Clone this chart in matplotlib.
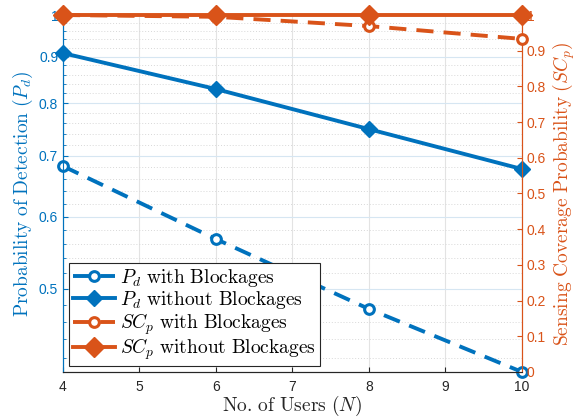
import matplotlib
matplotlib.use('Agg')
import matplotlib.pyplot as plt
from matplotlib.ticker import FixedLocator, FuncFormatter, NullFormatter
import numpy as np

plt.rcParams['mathtext.fontset'] = 'cm'
plt.rcParams['font.family'] = ['Liberation Sans', 'DejaVu Sans']

# data
users = [4, 6, 8, 10]
pd_block = [0.682, 0.567, 0.475, 0.405]
pd_noblock = [0.908, 0.829, 0.749, 0.677]
scp_block = [1.0, 0.995, 0.969, 0.933]
scp_noblock = [1.0, 1.0, 1.0, 1.0]

left_ticks = [0.5, 0.6, 0.7, 0.8, 0.9, 1.0]
right_ticks = [0.0, 0.1, 0.2, 0.3, 0.4, 0.5, 0.6, 0.7, 0.8, 0.9, 1.0]
x_ticks = [4, 5, 6, 7, 8, 9, 10]

blue = '#0072BD'
orange = '#D95319'
lw = 2.8
dash = (4.4, 2.6)

fig = plt.figure(figsize=(5.8, 4.17), dpi=100)
ax = fig.add_axes([0.1086, 0.108, 0.7914, 0.856])
ax2 = ax.twinx()

# left axis: log scale for P_d
ax.set_yscale('log')
ax.set_ylim(0.405, 1.0)
ax.set_xlim(4, 10)
ax.yaxis.set_major_locator(FixedLocator(left_ticks))
ax.yaxis.set_minor_locator(FixedLocator(np.round(np.arange(0.42, 0.99, 0.02), 2)))
ax.yaxis.set_major_formatter(FuncFormatter(lambda v, p: '%g' % v))
ax.yaxis.set_minor_formatter(NullFormatter())
ax.set_xticks(x_ticks)

ax.grid(True, which='major', axis='x', color='#e3e3e3', lw=0.8)
ax.grid(True, which='major', axis='y', color='#d6e6f2', lw=0.8)
ax.grid(True, which='minor', axis='y', color='#d8d8d8', lw=0.7, ls=(0, (1, 2)))
ax.set_axisbelow(True)

l1, = ax.plot(users, pd_block, color=blue, lw=lw, dashes=dash, marker='o',
              ms=7, mfc='white', mew=2.2, clip_on=False, zorder=3)
l2, = ax.plot(users, pd_noblock, color=blue, lw=lw, marker='D',
              ms=8, mfc=blue, clip_on=False, zorder=3)

# right axis: sensing coverage probability
ax2.set_ylim(0, 1)
ax2.set_yticks(right_ticks)
ax2.yaxis.set_major_formatter(FuncFormatter(lambda v, p: '%g' % v))
l3, = ax2.plot(users, scp_block, color=orange, lw=lw, dashes=dash, marker='o',
               ms=7, mfc='white', mew=2.2, clip_on=False, zorder=3)
l4, = ax2.plot(users, scp_noblock, color=orange, lw=lw, marker='D',
               ms=10, mfc=orange, clip_on=False, zorder=3)

for a in (ax, ax2):
    a.spines['top'].set_visible(False)
    a.spines['left'].set_color(blue)
    a.spines['right'].set_color(orange)
    a.spines['bottom'].set_color('#262626')
ax.tick_params(axis='y', which='both', colors=blue, direction='in', labelsize=10)
ax.tick_params(axis='y', which='minor', length=2.5)
ax.tick_params(axis='x', direction='in', colors='#262626', labelsize=10, pad=6)
ax2.tick_params(axis='y', colors=orange, direction='in', labelsize=10)

ax.set_xlabel(r'$\mathrm{No.\,of\ Users}\ (N)$', fontsize=14, color='#262626',
              labelpad=0)
ax.set_ylabel(r'$\mathrm{Probability\ of\ Detection}\ (P_d)$', fontsize=14,
              color=blue, labelpad=3)
ax2.set_ylabel(r'$\mathrm{Sensing\ Coverage\ Probability}\ (SC_p)$', fontsize=14,
               color=orange, labelpad=3)

leg = ax2.legend([l1, l2, l3, l4],
                 [r'$P_d\ \mathrm{with\ Blockages}$',
                  r'$P_d\ \mathrm{without\ Blockages}$',
                  r'$SC_p\ \mathrm{with\ Blockages}$',
                  r'$SC_p\ \mathrm{without\ Blockages}$'],
                 loc='lower left', fontsize=14, fancybox=False, framealpha=1,
                 edgecolor='#262626', handlelength=2.2, borderaxespad=0.3,
                 labelspacing=0.0, borderpad=0.2, handletextpad=0.25)
leg.get_frame().set_linewidth(0.8)

fig.savefig('out.png', dpi=100)
